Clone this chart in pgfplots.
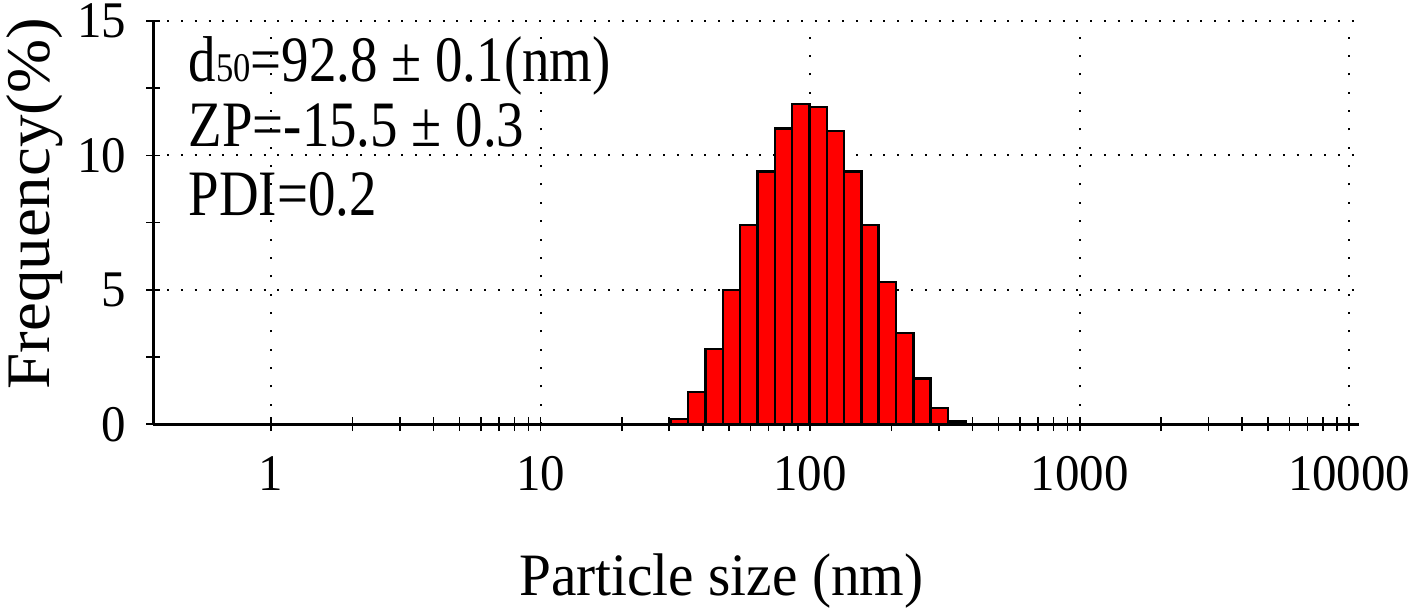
\documentclass[border=0pt]{standalone}
\usepackage{fontspec}
\setmainfont{Liberation Serif}
\usepackage{graphicx}
\usepackage{pgfplots}
\pgfplotsset{compat=1.18}
% the reference text is a little taller than plain Times
\newcommand{\vs}[1]{\scalebox{1}[1.05]{#1}}
\newcommand{\vt}[1]{\scalebox{1}[1.18]{#1}}

\begin{document}
\begin{tikzpicture}
\begin{axis}[
    scale only axis,
    width=604pt, height=202pt,
    xmode=log,
    xmin=0.3656, xmax=10890,
    ymin=0, ymax=15,
    axis x line=bottom, axis y line=left,
    axis line style={-, black, line width=1.4pt},
    xtick={1,10,100,1000,10000},
    xticklabels={\vs{1},\vs{10},\vs{100},\vs{1000},\vs{10000}},
    minor xtick={2,3,4,5,6,7,8,9,20,30,40,50,60,70,80,90,200,300,400,500,600,700,800,900,2000,3000,4000,5000,6000,7000,8000,9000},
    ytick={0,5,10,15},
    yticklabels={\vs{0},\vs{5},\vs{10},\vs{15}},
    minor ytick={2.5,7.5,12.5},
    tick align=center,
    major tick length=7pt, minor tick length=7pt,
    every tick/.style={black, line width=0.8pt},
    xmajorgrids, ymajorgrids,
    x grid style={black, line width=1pt, dash pattern=on 1pt off 8.2pt},
    y grid style={black, line width=1pt, dash pattern=on 1pt off 5.9pt},
    ticklabel style={font=\fontsize{24.5}{29}\selectfont},
    xticklabel style={anchor=base, yshift=-29.5pt},
    yticklabel style={anchor=east, inner sep=0pt, xshift=-10pt},
    every axis x label/.style={at={(axis description cs:0.471,-0.4257)}, anchor=base,
        font=\fontsize{28.7}{34}\selectfont},
    every axis y label/.style={at={(axis description cs:-0.0861,0.547)}, rotate=90, anchor=base,
        font=\fontsize{31}{37}\selectfont},
    xlabel={\vs{Particle size (nm)}},
    ylabel={\scalebox{1.05}[1]{Frequency(\%)}},
    clip=false,
]

% size distribution bins (edges in nm, frequency in %)
\addplot[ybar interval, fill=red, draw=black, line width=1.2pt] coordinates {
    (30.40,0.2) (35.25,1.2) (40.87,2.8) (47.39,5.0) (54.95,7.4)
    (63.71,9.4) (73.88,11.0) (85.66,11.9) (99.33,11.8) (115.2,10.9)
    (133.5,9.4) (154.8,7.4) (179.5,5.3) (208.2,3.4) (241.4,1.7)
    (279.9,0.6) (324.5,0.1) (376.3,0.1)
};

\node[anchor=base west, inner sep=0pt, font=\fontsize{27.5}{33}\selectfont]
    at (rel axis cs:0.029,0.849) {\vt{d{\fontsize{17.3}{20}\selectfont 50}=92.8 ± 0.1(nm)}};
\node[anchor=base west, inner sep=0pt, font=\fontsize{27.5}{33}\selectfont]
    at (rel axis cs:0.029,0.688) {\vt{ZP=-15.5 ± 0.3}};
\node[anchor=base west, inner sep=0pt, font=\fontsize{27.5}{33}\selectfont]
    at (rel axis cs:0.029,0.517) {\vt{PDI=0.2}};

% a little room above the top tick label
\path (rel axis cs:0,1) ++(0,10.5pt);

\end{axis}
\end{tikzpicture}
\end{document}
